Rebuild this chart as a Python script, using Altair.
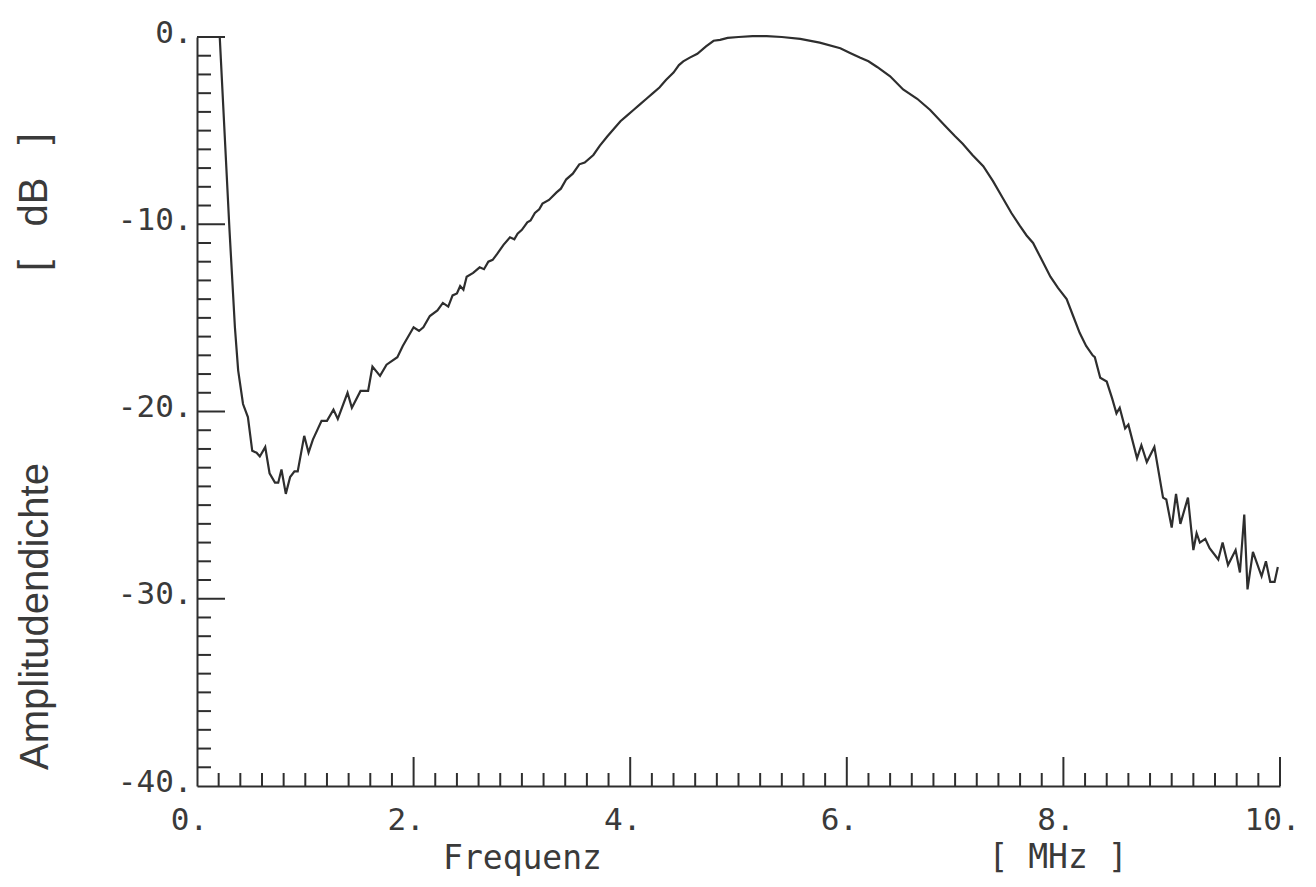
import altair as alt
import pandas as pd

# ---- data ----
freq = [0.21, 0.30, 0.35, 0.38, 0.425, 0.47, 0.51, 0.55, 0.58, 0.63, 0.67, 0.72, 0.75, 0.78, 0.82,
        0.86, 0.90, 0.93, 0.99, 1.03, 1.07, 1.15, 1.20, 1.26, 1.30, 1.39, 1.43, 1.51, 1.58, 1.62,
        1.69, 1.75, 1.85, 1.90, 2.00, 2.05, 2.09, 2.15, 2.22, 2.27, 2.32, 2.36, 2.40, 2.43, 2.46,
        2.49, 2.55, 2.61, 2.65, 2.69, 2.73, 2.77, 2.83, 2.89, 2.93, 2.96, 3.00, 3.05, 3.08, 3.12,
        3.16, 3.19, 3.25, 3.32, 3.36, 3.41, 3.47, 3.53, 3.58, 3.66, 3.72, 3.79, 3.85, 3.91, 3.97,
        4.03, 4.09, 4.15, 4.21, 4.27, 4.33, 4.40, 4.45, 4.49, 4.55, 4.62, 4.70, 4.77, 4.83, 4.90,
        5.00, 5.13, 5.26, 5.40, 5.57, 5.75, 5.94, 6.03, 6.12, 6.20, 6.28, 6.40, 6.52, 6.65, 6.77,
        6.90, 7.00, 7.07, 7.16, 7.26, 7.35, 7.44, 7.52, 7.60, 7.66, 7.72, 7.80, 7.88, 7.95, 8.03,
        8.09, 8.15, 8.21, 8.27, 8.29, 8.34, 8.40, 8.45, 8.49, 8.52, 8.57, 8.60, 8.68, 8.72, 8.77,
        8.84, 8.92, 8.95, 9.00, 9.04, 9.08, 9.15, 9.20, 9.23, 9.26, 9.31, 9.35, 9.43, 9.47, 9.52,
        9.59, 9.63, 9.67, 9.70, 9.75, 9.83, 9.87, 9.91, 9.95, 9.98]
amp = [0.0, -10.3, -15.5, -17.8, -19.6, -20.3, -22.1, -22.2, -22.4, -21.9, -23.3, -23.8, -23.8, -23.1, -24.4,
       -23.5, -23.2, -23.2, -21.3, -22.2, -21.5, -20.5, -20.5, -19.9, -20.4, -19.0, -19.8, -18.9, -18.9, -17.6,
       -18.1, -17.5, -17.1, -16.5, -15.5, -15.7, -15.5, -14.9, -14.6, -14.2, -14.4, -13.8, -13.7, -13.3, -13.5,
       -12.8, -12.6, -12.3, -12.4, -12.0, -11.9, -11.6, -11.1, -10.7, -10.8, -10.5, -10.3, -9.9, -9.8, -9.4,
       -9.2, -8.9, -8.7, -8.3, -8.1, -7.6, -7.3, -6.8, -6.7, -6.3, -5.8, -5.3, -4.9, -4.5, -4.2,
       -3.9, -3.6, -3.3, -3.0, -2.7, -2.3, -1.9, -1.5, -1.3, -1.1, -0.9, -0.5, -0.2, -0.15, -0.05,
       0.0, 0.05, 0.05, 0.0, -0.1, -0.3, -0.6, -0.85, -1.1, -1.3, -1.6, -2.1, -2.8, -3.3, -3.9,
       -4.7, -5.3, -5.7, -6.3, -6.9, -7.7, -8.6, -9.4, -10.1, -10.6, -11.0, -11.9, -12.8, -13.4, -14.0,
       -14.9, -15.8, -16.5, -17.0, -17.1, -18.2, -18.4, -19.3, -20.1, -19.8, -20.9, -20.7, -22.5, -21.8, -22.7,
       -21.9, -24.6, -24.7, -26.2, -24.4, -26.0, -24.6, -27.4, -26.5, -27.0, -26.8, -27.3, -27.9, -27.0, -28.2,
       -27.4, -28.6, -25.5, -29.5, -27.5, -28.8, -28.0, -29.1, -29.1, -28.3]

x_label_values = [0, 2, 4, 6, 8, 10]
y_label_values = [-40, -30, -20, -10, 0]
x_major_ticks = [2, 4, 6, 8, 10]
x_minor_ticks = [round(0.2 * i, 1) for i in range(1, 50) if i % 10 != 0]
y_major_ticks = [-30, -20, -10, 0]
y_minor_ticks = [i for i in range(-39, 0) if i % 10 != 0]

W, H = 1083, 749
INK = "#2e2e2e"
TXT = "#3a3a3a"
MONO = "DejaVu Sans Mono"
SANS = "Liberation Sans"
NB = "\u00a0"

df = pd.DataFrame({"f": freq, "a": amp})
xs = alt.Scale(domain=[0, 10], nice=False, zero=False)
ys = alt.Scale(domain=[-40, 0], nice=False, zero=False)

x_axis = alt.Axis(
    values=x_label_values, labelExpr="datum.value + '.'", ticks=False, grid=False,
    domainColor=INK, domainWidth=2, labelFont=MONO, labelFontSize=31, labelColor=TXT,
    labelPadding=19, labelOffset=-8, labelFlush=False, labelOverlap=False,
    title="Frequenz", titleX=325, titleY=72, titleFont=MONO, titleFontSize=33,
    titleFontWeight="normal", titleColor=TXT, titleAlign="center", titleBaseline="middle")
y_axis = alt.Axis(
    values=y_label_values, labelExpr="datum.value + '.'", ticks=False, grid=False,
    domainColor=INK, domainWidth=2, labelFont=MONO, labelFontSize=31, labelColor=TXT,
    labelPadding=5, labelOffset=-4, labelFlush=False, labelOverlap=False,
    title="Amplitudendichte", titleX=-162, titleY=579, titleAngle=270, titleFont=SANS,
    titleFontSize=40, titleFontWeight="normal", titleColor=TXT, titleAlign="center",
    titleBaseline="middle")

line = alt.Chart(df).mark_line(color=INK, strokeWidth=2.2, clip=False).encode(
    x=alt.X("f:Q", scale=xs, axis=x_axis),
    y=alt.Y("a:Q", scale=ys, axis=y_axis),
)

ytick_minor = alt.Chart(pd.DataFrame({"a": y_minor_ticks})).mark_rule(color=INK, strokeWidth=2).encode(
    y=alt.Y("a:Q", scale=ys, axis=y_axis), x=alt.value(0), x2=alt.value(14))
ytick_major = alt.Chart(pd.DataFrame({"a": y_major_ticks})).mark_rule(color=INK, strokeWidth=2).encode(
    y=alt.Y("a:Q", scale=ys, axis=y_axis), x=alt.value(0), x2=alt.value(28))
xtick_minor = alt.Chart(pd.DataFrame({"f": x_minor_ticks})).mark_rule(color=INK, strokeWidth=2).encode(
    x=alt.X("f:Q", scale=xs, axis=x_axis), y=alt.value(H), y2=alt.value(H - 13))
xtick_major = alt.Chart(pd.DataFrame({"f": x_major_ticks})).mark_rule(color=INK, strokeWidth=2).encode(
    x=alt.X("f:Q", scale=xs, axis=x_axis), y=alt.value(H), y2=alt.value(H - 29))

mhz = alt.Chart(pd.DataFrame({"t": ["[" + NB + "MHz" + NB + "]"]})).mark_text(
    font=MONO, fontSize=33, color=TXT, align="center", baseline="middle").encode(
    text="t:N", x=alt.value(861), y=alt.value(H + 72))
db = alt.Chart(pd.DataFrame({"t": ["[" + NB * 3 + "dB" + NB * 3 + "]"]})).mark_text(
    font=SANS, fontSize=40, color=TXT, align="center", baseline="middle", angle=270).encode(
    text="t:N", x=alt.value(-162), y=alt.value(165))

chart = alt.layer(line, ytick_minor, ytick_major, xtick_minor, xtick_major, mhz, db).properties(
    width=W, height=H,
    background="white",
    autosize=alt.AutoSizeParams(type="none"),
    padding={"left": 189, "top": 29, "right": 20, "bottom": 95},
).configure_view(strokeWidth=0)

chart.save("out.html", embed_options={"renderer": "svg", "actions": False})
